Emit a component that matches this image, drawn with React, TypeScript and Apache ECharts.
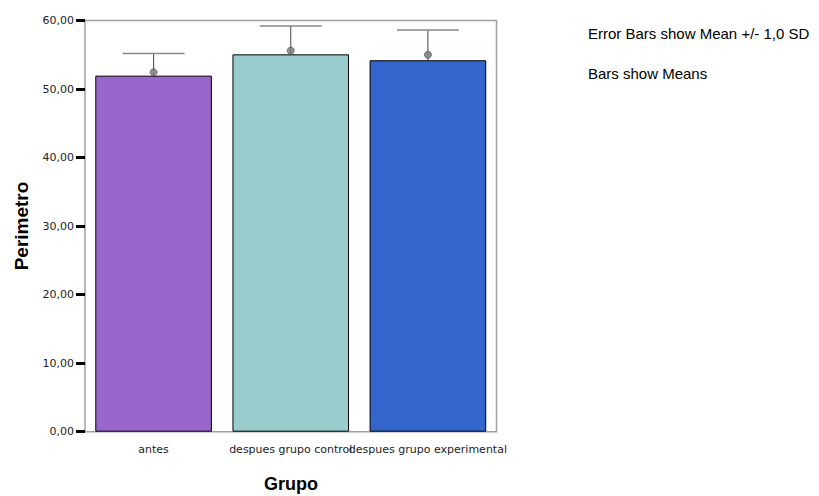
import React, { useEffect, useRef } from "react";
import * as echarts from "echarts";

const categories = ["antes", "despues grupo control", "despues grupo experimental"];
const means = [51.95, 55.06, 54.2];
const sds = [3.25, 4.15, 4.4];
const markerMeans = [52.45, 55.6, 55.0];
const barColors = ["#9966CC", "#99CCCC", "#3366CC"];
const yMin = 0;
const yMax = 60;
const yStep = 10;
const notes = ["Error Bars show Mean +/- 1,0 SD", "Bars show Means"];

export default function App() {
  const ref = useRef<HTMLDivElement>(null);
  useEffect(() => {
    document.body.style.margin = "0";
    const chart = echarts.init(ref.current!, null, { renderer: "svg" });
    chart.setOption({
      animation: false,
      grid: {
        left: 85,
        top: 20.5,
        width: 411.5,
        height: 411.2,
        show: true,
        borderColor: "#a0a0a0",
        borderWidth: 1.5,
        backgroundColor: "transparent",
      },
      xAxis: {
        type: "category",
        data: categories,
        axisLine: { show: false },
        axisTick: { alignWithLabel: true, length: 8, lineStyle: { color: "#000", width: 3 } },
        axisLabel: { interval: 0, fontSize: 11, fontFamily: "DejaVu Sans", color: "#222", margin: 12 },
      },
      yAxis: {
        type: "value",
        min: yMin,
        max: yMax,
        interval: yStep,
        axisLine: { show: false },
        splitLine: { show: false },
        axisTick: { show: true, length: 9, lineStyle: { color: "#000", width: 3 } },
        axisLabel: {
          formatter: (v: number) => v.toFixed(2).replace(".", ","),
          fontSize: 11,
          fontFamily: "DejaVu Sans",
          color: "#222",
          margin: 11,
        },
      },
      series: [
        {
          type: "bar",
          data: means.map((v, i) => ({ value: v, itemStyle: { color: barColors[i] } })),
          barWidth: "85%",
          itemStyle: { borderColor: "#000", borderWidth: 1 },
          z: 2,
        },
        {
          type: "custom",
          z: 3,
          encode: { x: 0, y: 1 },
          data: means.map((m, i) => [i, m, sds[i]]),
          renderItem: (params: any, api: any) => {
            const i = api.value(0);
            const m = api.value(1);
            const s = api.value(2);
            const top = api.coord([i, m + s]);
            const base = api.coord([i, m]);
            return {
              type: "group",
              children: [
                {
                  type: "line",
                  shape: { x1: top[0], y1: top[1], x2: top[0], y2: base[1] },
                  style: { stroke: "#444", lineWidth: 1 },
                },
                {
                  type: "line",
                  shape: { x1: top[0] - 31, y1: top[1], x2: top[0] + 31, y2: top[1] },
                  style: { stroke: "#888", lineWidth: 1.5 },
                },
              ],
            };
          },
        },
        {
          type: "scatter",
          z: 4,
          data: markerMeans.map((v, i) => [i, v]),
          symbol: "circle",
          symbolSize: 7,
          itemStyle: { color: "#7a7a7a", borderColor: "#555", borderWidth: 1 },
        },
      ],
      graphic: [
        {
          type: "text",
          x: 21,
          y: 226,
          rotation: Math.PI / 2,
          style: {
            text: "Perimetro",
            fontSize: 19,
            fontWeight: "bold",
            fontFamily: "Liberation Sans",
            fill: "#000",
            align: "center",
            verticalAlign: "middle",
          },
        },
        {
          type: "text",
          x: 291,
          y: 484,
          style: {
            text: "Grupo",
            fontSize: 18,
            fontWeight: "bold",
            fontFamily: "Liberation Sans",
            fill: "#000",
            align: "center",
            verticalAlign: "middle",
          },
        },
        {
          type: "text",
          x: 588,
          y: 33,
          style: {
            text: notes[0],
            fontSize: 15,
            fontFamily: "Liberation Sans",
            fill: "#000",
            align: "left",
            verticalAlign: "middle",
          },
        },
        {
          type: "text",
          x: 588,
          y: 73,
          style: {
            text: notes[1],
            fontSize: 15,
            fontFamily: "Liberation Sans",
            fill: "#000",
            align: "left",
            verticalAlign: "middle",
          },
        },
      ],
    });
    return () => chart.dispose();
  }, []);
  return <div ref={ref} style={{ width: 819, height: 496 }} />;
}
